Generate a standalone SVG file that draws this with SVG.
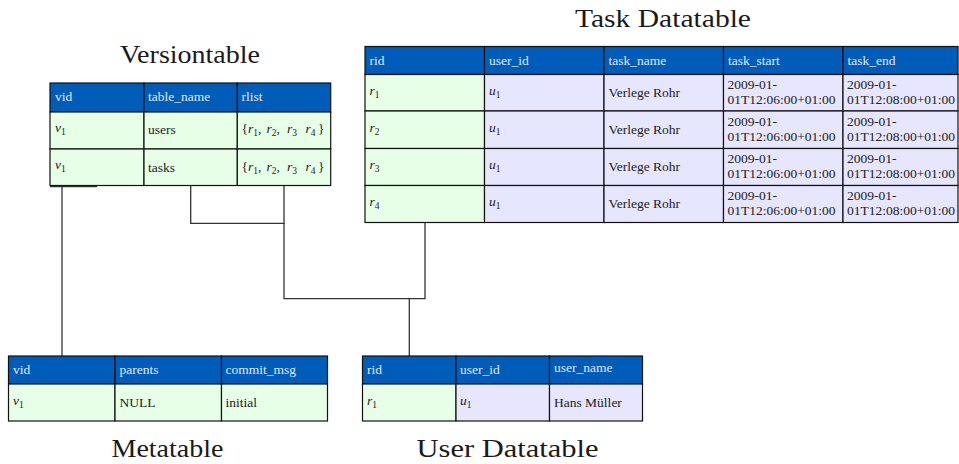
<svg xmlns="http://www.w3.org/2000/svg" width="959" height="464" viewBox="0 0 959 464">
  <style>
    text { font-family: "Liberation Serif", "DejaVu Serif", serif; }
    .title { font-size: 26px; fill: #1a1a1a; text-anchor: middle; }
    .hd { fill: #005CB9; stroke: #111; stroke-width: 1.2; }
    .g { fill: #E6FFE6; stroke: #111; stroke-width: 1.2; }
    .l { fill: #E6E6FF; stroke: #111; stroke-width: 1.2; }
    .ht { font-size: 13.5px; fill: #E4E8FF; }
    .ct { font-size: 13.5px; fill: #222; }
    .ts { font-size: 13.5px; fill: #222; }
    .i { font-style: italic; }
    .sub { font-size: 9.5px; }
    .conn { fill: none; stroke: #333; stroke-width: 1.3; }
  </style>

  <!-- connectors between tables -->
  <g id="connectors">
    <path class="conn" d="M50,186.5 H97"/>
    <path class="conn" d="M62,186 V356"/>
    <path class="conn" d="M190.7,186 V223.3 H284 V186"/>
    <path class="conn" d="M284,223.3 V298.7 H425 V222.5"/>
    <path class="conn" d="M409.3,298.7 V356"/>
  </g>

  <!-- Versiontable -->
  <g id="versiontable">
    <text class="title" x="190" y="63" textLength="140" lengthAdjust="spacingAndGlyphs">Versiontable</text>
    <rect class="hd" x="50" y="83" width="94" height="29"/>
    <rect class="hd" x="144" y="83" width="93.3" height="29"/>
    <rect class="hd" x="237.3" y="83" width="93.4" height="29"/>
    <rect class="g" x="50" y="112" width="94" height="37"/>
    <rect class="g" x="144" y="112" width="93.3" height="37"/>
    <rect class="g" x="237.3" y="112" width="93.4" height="37"/>
    <rect class="g" x="50" y="149" width="94" height="36.5"/>
    <rect class="g" x="144" y="149" width="93.3" height="36.5"/>
    <rect class="g" x="237.3" y="149" width="93.4" height="36.5"/>
    <text class="ht" x="55" y="101">vid</text>
    <text class="ht" x="148" y="101">table_name</text>
    <text class="ht" x="241.5" y="101">rlist</text>
    <text class="ct" x="55" y="132"><tspan class="i">v</tspan><tspan class="sub" dy="3">1</tspan></text>
    <text class="ct" x="148" y="133.5">users</text>
    <text class="ct" y="133"><tspan x="241.5">{</tspan><tspan class="i" x="248">r</tspan><tspan class="sub" dy="3">1</tspan><tspan dy="-3">,</tspan><tspan class="i" x="266.5">r</tspan><tspan class="sub" dy="3">2</tspan><tspan dy="-3">,</tspan><tspan class="i" x="287">r</tspan><tspan class="sub" dy="3">3</tspan><tspan class="i" x="305.5" dy="-3">r</tspan><tspan class="sub" dy="3">4</tspan><tspan x="318" dy="-3">}</tspan></text>
    <text class="ct" x="55" y="169"><tspan class="i">v</tspan><tspan class="sub" dy="3">1</tspan></text>
    <text class="ct" x="148" y="171.5">tasks</text>
    <text class="ct" y="170.5"><tspan x="241.5">{</tspan><tspan class="i" x="248">r</tspan><tspan class="sub" dy="3">1</tspan><tspan dy="-3">,</tspan><tspan class="i" x="266.5">r</tspan><tspan class="sub" dy="3">2</tspan><tspan dy="-3">,</tspan><tspan class="i" x="287">r</tspan><tspan class="sub" dy="3">3</tspan><tspan class="i" x="305.5" dy="-3">r</tspan><tspan class="sub" dy="3">4</tspan><tspan x="318" dy="-3">}</tspan></text>
  </g>

  <!-- Task Datatable -->
  <g id="task-datatable">
    <text class="title" x="663" y="27" textLength="176" lengthAdjust="spacingAndGlyphs">Task Datatable</text>
    <rect class="hd" x="365" y="46.5" width="119.5" height="28"/>
    <rect class="hd" x="484.5" y="46.5" width="119.5" height="28"/>
    <rect class="hd" x="604" y="46.5" width="119.5" height="28"/>
    <rect class="hd" x="723.5" y="46.5" width="119.5" height="28"/>
    <rect class="hd" x="843" y="46.5" width="115" height="28"/>
    <text class="ht" x="369.5" y="65">rid</text>
    <text class="ht" x="489" y="65">user_id</text>
    <text class="ht" x="608.5" y="65">task_name</text>
    <text class="ht" x="728" y="65">task_start</text>
    <text class="ht" x="847.5" y="65">task_end</text>

    <!-- row r1 -->
    <rect class="g" x="365" y="74.5" width="119.5" height="36.5"/>
    <rect class="l" x="484.5" y="74.5" width="119.5" height="36.5"/>
    <rect class="l" x="604" y="74.5" width="119.5" height="36.5"/>
    <rect class="l" x="723.5" y="74.5" width="119.5" height="36.5"/>
    <rect class="l" x="843" y="74.5" width="115" height="36.5"/>
    <text class="ct" x="369.5" y="95"><tspan class="i">r</tspan><tspan class="sub" dy="3">1</tspan></text>
    <text class="ct" x="489" y="95"><tspan class="i">u</tspan><tspan class="sub" dy="3">1</tspan></text>
    <text class="ct" x="608.5" y="96.5">Verlege Rohr</text>
    <text class="ts" x="727.5" y="88.7">2009-01-<tspan x="727.5" dy="15.5">01T12:06:00+01:00</tspan></text>
    <text class="ts" x="847" y="88.7">2009-01-<tspan x="847" dy="15.5">01T12:08:00+01:00</tspan></text>

    <!-- row r2 -->
    <rect class="g" x="365" y="111" width="119.5" height="37.5"/>
    <rect class="l" x="484.5" y="111" width="119.5" height="37.5"/>
    <rect class="l" x="604" y="111" width="119.5" height="37.5"/>
    <rect class="l" x="723.5" y="111" width="119.5" height="37.5"/>
    <rect class="l" x="843" y="111" width="115" height="37.5"/>
    <text class="ct" x="369.5" y="132"><tspan class="i">r</tspan><tspan class="sub" dy="3">2</tspan></text>
    <text class="ct" x="489" y="132"><tspan class="i">u</tspan><tspan class="sub" dy="3">1</tspan></text>
    <text class="ct" x="608.5" y="133.5">Verlege Rohr</text>
    <text class="ts" x="727.5" y="125.7">2009-01-<tspan x="727.5" dy="15.5">01T12:06:00+01:00</tspan></text>
    <text class="ts" x="847" y="125.7">2009-01-<tspan x="847" dy="15.5">01T12:08:00+01:00</tspan></text>

    <!-- row r3 -->
    <rect class="g" x="365" y="148.5" width="119.5" height="37"/>
    <rect class="l" x="484.5" y="148.5" width="119.5" height="37"/>
    <rect class="l" x="604" y="148.5" width="119.5" height="37"/>
    <rect class="l" x="723.5" y="148.5" width="119.5" height="37"/>
    <rect class="l" x="843" y="148.5" width="115" height="37"/>
    <text class="ct" x="369.5" y="169"><tspan class="i">r</tspan><tspan class="sub" dy="3">3</tspan></text>
    <text class="ct" x="489" y="169"><tspan class="i">u</tspan><tspan class="sub" dy="3">1</tspan></text>
    <text class="ct" x="608.5" y="170.5">Verlege Rohr</text>
    <text class="ts" x="727.5" y="162.7">2009-01-<tspan x="727.5" dy="15.5">01T12:06:00+01:00</tspan></text>
    <text class="ts" x="847" y="162.7">2009-01-<tspan x="847" dy="15.5">01T12:08:00+01:00</tspan></text>

    <!-- row r4 -->
    <rect class="g" x="365" y="185.5" width="119.5" height="37"/>
    <rect class="l" x="484.5" y="185.5" width="119.5" height="37"/>
    <rect class="l" x="604" y="185.5" width="119.5" height="37"/>
    <rect class="l" x="723.5" y="185.5" width="119.5" height="37"/>
    <rect class="l" x="843" y="185.5" width="115" height="37"/>
    <text class="ct" x="369.5" y="206"><tspan class="i">r</tspan><tspan class="sub" dy="3">4</tspan></text>
    <text class="ct" x="489" y="206"><tspan class="i">u</tspan><tspan class="sub" dy="3">1</tspan></text>
    <text class="ct" x="608.5" y="207.5">Verlege Rohr</text>
    <text class="ts" x="727.5" y="199.7">2009-01-<tspan x="727.5" dy="15.5">01T12:06:00+01:00</tspan></text>
    <text class="ts" x="847" y="199.7">2009-01-<tspan x="847" dy="15.5">01T12:08:00+01:00</tspan></text>
  </g>

  <!-- Metatable -->
  <g id="metatable">
    <rect class="hd" x="8.5" y="356" width="106.5" height="28"/>
    <rect class="hd" x="115" y="356" width="106.5" height="28"/>
    <rect class="hd" x="221.5" y="356" width="106" height="28"/>
    <rect class="g" x="8.5" y="384" width="106.5" height="37"/>
    <rect class="g" x="115" y="384" width="106.5" height="37"/>
    <rect class="g" x="221.5" y="384" width="106" height="37"/>
    <text class="ht" x="13" y="374">vid</text>
    <text class="ht" x="119.5" y="374">parents</text>
    <text class="ht" x="225.5" y="374">commit_msg</text>
    <text class="ct" x="13" y="405"><tspan class="i">v</tspan><tspan class="sub" dy="3">1</tspan></text>
    <text class="ct" x="119.5" y="406.5">NULL</text>
    <text class="ct" x="225.5" y="406.5">initial</text>
    <text class="title" x="167.5" y="457" textLength="112" lengthAdjust="spacingAndGlyphs">Metatable</text>
  </g>

  <!-- User Datatable -->
  <g id="user-datatable">
    <rect class="hd" x="362.5" y="356" width="93.5" height="28"/>
    <rect class="hd" x="456" y="356" width="93.5" height="28"/>
    <rect class="hd" x="549.5" y="356" width="93" height="28"/>
    <rect class="g" x="362.5" y="384" width="93.5" height="37"/>
    <rect class="l" x="456" y="384" width="93.5" height="37"/>
    <rect class="l" x="549.5" y="384" width="93" height="37"/>
    <text class="ht" x="367" y="374">rid</text>
    <text class="ht" x="460" y="374">user_id</text>
    <text class="ht" x="554" y="372">user_name</text>
    <text class="ct" x="367" y="405"><tspan class="i">r</tspan><tspan class="sub" dy="3">1</tspan></text>
    <text class="ct" x="460" y="405"><tspan class="i">u</tspan><tspan class="sub" dy="3">1</tspan></text>
    <text class="ct" x="554" y="406.5">Hans Müller</text>
    <text class="title" x="507.5" y="457" textLength="182" lengthAdjust="spacingAndGlyphs">User Datatable</text>
  </g>
</svg>
